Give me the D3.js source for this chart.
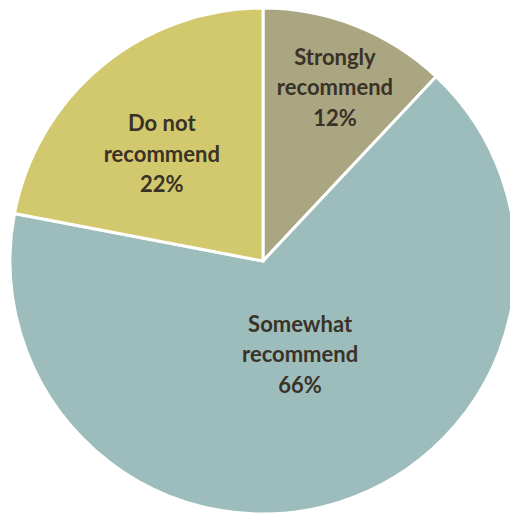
<!DOCTYPE html>
<html>
<head>
<meta charset="utf-8">
<script src="https://cdn.jsdelivr.net/npm/d3@7"></script>
<style>
  html, body { margin: 0; padding: 0; background: #ffffff; }
  svg { display: block; }
</style>
</head>
<body>
<svg id="chart" width="510" height="514"></svg>
<script>
// Survey answers, in clockwise order from twelve o'clock
const categories = ["Strongly recommend", "Somewhat recommend", "Do not recommend"];
const labelLines = [["Strongly", "recommend"], ["Somewhat", "recommend"], ["Do not", "recommend"]];
const values = [12, 66, 22];
const colors = ["#aaa682", "#9dbdbd", "#d2c86e"];

const svg = d3.select("#chart");
const cx = 263, cy = 261, radius = 253;

const pie = d3.pie().sort(null).value(d => d.value).startAngle(0).endAngle(2 * Math.PI);
const arcs = pie(categories.map((c, i) => ({ name: c, value: values[i], lines: labelLines[i], color: colors[i] })));

const arc = d3.arc().innerRadius(0).outerRadius(radius);
const g = svg.append("g").attr("transform", `translate(${cx},${cy})`);

g.selectAll("path.slice")
  .data(arcs)
  .join("path")
  .attr("class", "slice")
  .attr("d", arc)
  .attr("fill", d => d.data.color)
  .attr("stroke", "#ffffff")
  .attr("stroke-width", 3)
  .attr("stroke-linejoin", "miter");

// label placement: radius as a fraction of the pie radius, plus a small angle nudge (degrees)
const labelRadius = [0.74, 0.40, 0.58];
const labelNudge = [1, -3.5, -4];
const lineGap = 30.5;

const labels = g.selectAll("text.label")
  .data(arcs)
  .join("text")
  .attr("class", "label")
  .attr("text-anchor", "middle")
  .attr("font-family", "Lato, 'Open Sans', sans-serif")
  .attr("font-weight", "bold")
  .attr("font-size", 22)
  .attr("fill", "#3a3226")
  .attr("transform", (d, i) => {
    const a = (d.startAngle + d.endAngle) / 2 + labelNudge[i] * Math.PI / 180;
    const r = radius * labelRadius[i];
    return `translate(${r * Math.sin(a)},${-r * Math.cos(a)})`;
  });

labels.each(function(d) {
  const t = d3.select(this);
  const lines = d.data.lines.concat([d.data.value + "%"]);
  lines.forEach((s, k) => {
    t.append("tspan")
      .attr("x", 0)
      .attr("y", (k - 1) * lineGap + 7)
      .text(s);
  });
});
</script>
</body>
</html>
